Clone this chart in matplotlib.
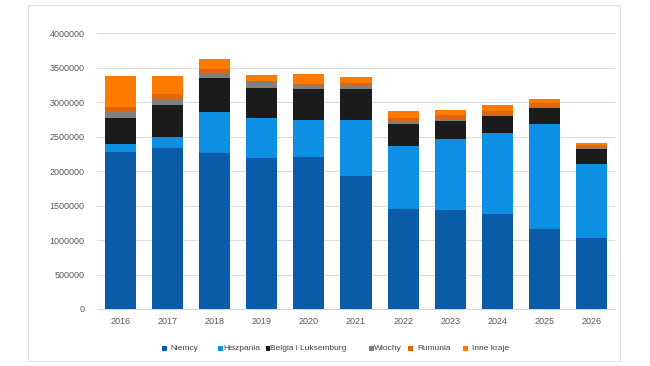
import matplotlib
matplotlib.use("Agg")
import matplotlib.pyplot as plt
from matplotlib.patches import Rectangle
import numpy as np

years = ["2016", "2017", "2018", "2019", "2020", "2021", "2022", "2023", "2024", "2025", "2026"]
series_names = ["Niemcy", "Hiszpania", "Belgia i Luksemburg", "Włochy", "Rumunia", "Inne kraje"]
niemcy = [2275000, 2330000, 2260000, 2190000, 2200000, 1930000, 1450000, 1435000, 1375000, 1160000, 1035000]
hiszpania = [115000, 170000, 595000, 580000, 540000, 810000, 910000, 1035000, 1180000, 1525000, 1065000]
belgia = [380000, 450000, 495000, 440000, 450000, 450000, 320000, 260000, 235000, 235000, 220000]
wlochy = [80000, 80000, 65000, 75000, 40000, 50000, 40000, 20000, 10000, 10000, 20000]
rumunia = [80000, 90000, 65000, 15000, 30000, 40000, 50000, 60000, 70000, 60000, 30000]
inne = [440000, 260000, 150000, 90000, 150000, 80000, 100000, 70000, 90000, 60000, 40000]
y_ticks = [0, 500000, 1000000, 1500000, 2000000, 2500000, 3000000, 3500000, 4000000]

colors = ["#0b5ca8", "#0d8fe3", "#1b1b1b", "#808080", "#de660f", "#ff7b00"]
data = [niemcy, hiszpania, belgia, wlochy, rumunia, inne]

plt.rcParams['font.family'] = ['Liberation Sans', 'DejaVu Sans']

fig = plt.figure(figsize=(6.5, 3.66), dpi=100)
fig.patch.set_facecolor("white")

# outer frame
fig.add_artist(Rectangle((28/650, 1-361/366), (620-28)/650, (361-5)/366,
                         transform=fig.transFigure, fill=False,
                         edgecolor="#e3e3e3", linewidth=0.8))

ax = fig.add_axes([97/650, 1-309/366, (615-97)/650, (309-33)/366])
x = np.arange(len(years))
bottom = np.zeros(len(years))
for name, vals, c in zip(series_names, data, colors):
    ax.bar(x, vals, width=0.66, bottom=bottom, color=c, label=name, zorder=3)
    bottom += np.array(vals)

ax.set_xlim(-0.5, len(years) - 0.5)
ax.set_ylim(0, 4000000)
ax.set_yticks(y_ticks)
ax.set_yticklabels([str(v) for v in y_ticks])
ax.set_xticks(x)
ax.set_xticklabels(years)
ax.grid(axis="y", color="#dedede", linewidth=0.8, zorder=0)
for s in ["top", "right", "left"]:
    ax.spines[s].set_visible(False)
ax.spines["bottom"].set_color("#d9d9d9")
ax.spines["bottom"].set_linewidth(0.8)
ax.tick_params(axis="both", length=0, labelsize=6.5, labelcolor="#595959")
ax.tick_params(axis="y", pad=9)
ax.tick_params(axis="x", pad=6)

# legend drawn manually
leg_sq = [164, 220, 267.5, 371, 410, 465]
leg_tx = [170, 223, 270, 374, 417, 472]
yc = 348
for name, c, sx, tx in zip(series_names, colors, leg_sq, leg_tx):
    fig.add_artist(Rectangle(((sx - 2)/650, 1 - (yc + 2.5)/366), 4.5/650, 5/366,
                             transform=fig.transFigure, facecolor=c, edgecolor="none"))
    fig.text(tx/650, 1 - yc/366, name, fontsize=6.0, color="#404040",
             va="center", ha="left")

fig.savefig("out.png", dpi=100, facecolor="white")
